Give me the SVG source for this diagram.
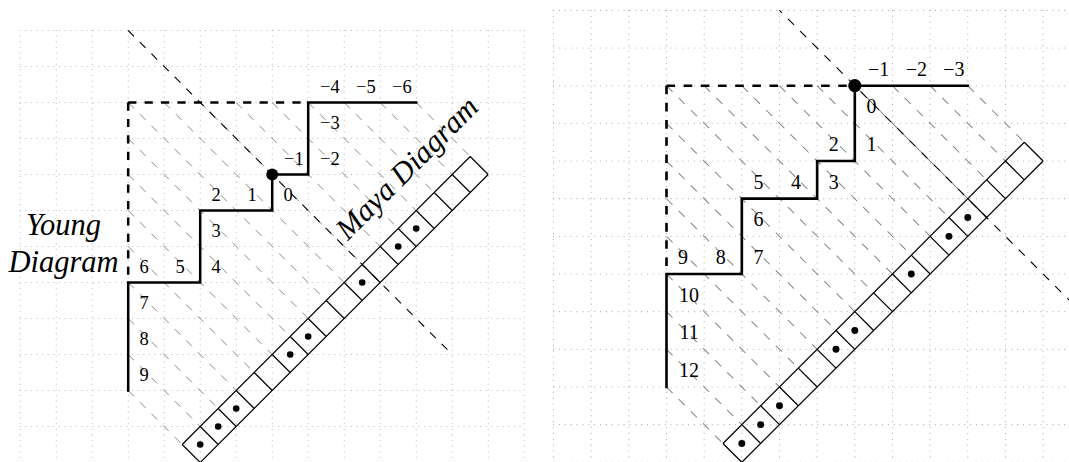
<svg xmlns="http://www.w3.org/2000/svg" width="1069" height="462" viewBox="0 0 1069 462">
<style>
.grid{stroke:#a8a8a8;stroke-width:0.03;stroke-linecap:round;stroke-dasharray:0 0.156;fill:none}
.guide{stroke:#858585;stroke-width:0.027;stroke-dasharray:0.228 0.228;fill:none}
.diag{stroke:#000;stroke-width:0.03;stroke-dasharray:0.228 0.228;fill:none}
.box{stroke:#000;stroke-width:0.07;stroke-dasharray:0.228 0.228;fill:none}
.yd{stroke:#000;stroke-width:0.07;fill:none;stroke-linecap:square}
.strip{stroke:#000;stroke-width:0.033;fill:none}
.lbl{font-family:"Liberation Serif","DejaVu Serif",serif;text-anchor:middle;fill:#000}
.l1{font-size:18.5px}
.l2{font-size:20px}
.it{font-family:"Liberation Serif","DejaVu Serif",serif;font-style:italic;font-size:30.5px;text-anchor:middle;fill:#000}
</style>
<defs>
<g id="base">
<path class="grid" d="M-3 -2H11M-3 -1H11M-3 0H11M-3 1H11M-3 2H11M-3 3H11M-3 4H11M-3 5H11M-3 6H11M-3 7H11M-3 8H11M-3 9H11M-3 10H11M-3 -2V10M-2 -2V10M-1 -2V10M0 -2V10M1 -2V10M2 -2V10M3 -2V10M4 -2V10M5 -2V10M6 -2V10M7 -2V10M8 -2V10M9 -2V10M10 -2V10M11 -2V10"/>
<path class="guide" d="M0 8L1.5 9.5M0 7L2 9M0 6L2.5 8.5M0 5L3 8M0 4L3.5 7.5M0 3L4 7M0 2L4.5 6.5M0 1L5 6M0 0L5.5 5.5M1 0L6 5M2 0L6.5 4.5M3 0L7 4M4 0L7.5 3.5M5 0L8 3M6 0L8.5 2.5M7 0L9 2M8 0L9.5 1.5"/>
<path class="box" d="M0 0H5M0 0V5"/>
<path class="yd" d="M8 0H5V2H4V3H2V5H0V8"/>
<path class="strip" d="M1.5 9.5L9.5 1.5M2 10L10 2M1.5 9.5l0.5 0.5M2 9l0.5 0.5M2.5 8.5l0.5 0.5M3 8l0.5 0.5M3.5 7.5l0.5 0.5M4 7l0.5 0.5M4.5 6.5l0.5 0.5M5 6l0.5 0.5M5.5 5.5l0.5 0.5M6 5l0.5 0.5M6.5 4.5l0.5 0.5M7 4l0.5 0.5M7.5 3.5l0.5 0.5M8 3l0.5 0.5M8.5 2.5l0.5 0.5M9 2l0.5 0.5M9.5 1.5l0.5 0.5"/>
<g fill="#000">
<circle cx="2" cy="9.5" r="0.092"/><circle cx="2.5" cy="9" r="0.092"/><circle cx="3" cy="8.5" r="0.092"/>
<circle cx="4.5" cy="7" r="0.092"/><circle cx="5" cy="6.5" r="0.092"/>
<circle cx="6.5" cy="5" r="0.092"/>
<circle cx="7.5" cy="4" r="0.092"/><circle cx="8" cy="3.5" r="0.092"/>
</g>
</g>
</defs>
<rect width="1069" height="462" fill="#fff"/>

<g id="left-figure">
<g id="left-diagram" transform="translate(128.2 102.5) scale(36)">
<use href="#base"/>
<g id="left-connectors">
<path class="diag" d="M0 -2L9 7"/>
</g>
<circle id="left-origin" cx="4" cy="2" r="0.165" fill="#000"/>
</g>
<g id="left-labels" class="lbl l1">
<text x="401.8" y="92.6">−6</text>
<text x="365.8" y="92.6">−5</text>
<text x="329.8" y="92.6">−4</text>
<text x="329.8" y="128.6">−3</text>
<text x="329.8" y="164.6">−2</text>
<text x="293.8" y="164.6">−1</text>
<text x="288" y="200.6">0</text>
<text x="252" y="200.6">1</text>
<text x="216" y="200.6">2</text>
<text x="216" y="236.6">3</text>
<text x="216" y="272.6">4</text>
<text x="180" y="272.6">5</text>
<text x="144" y="272.6">6</text>
<text x="144" y="308.6">7</text>
<text x="144" y="344.6">8</text>
<text x="144" y="380.6">9</text>
</g>
<g id="young-title" class="it">
<text x="63.5" y="235">Young</text>
<text x="63.5" y="271.5">Diagram</text>
</g>
<g id="maya-title" class="it">
<text transform="translate(414 175) rotate(-45)" x="0" y="0">Maya Diagram</text>
</g>
</g>

<g id="right-figure">
<g id="right-diagram" transform="translate(666.5 85.7) scale(37.66)">
<use href="#base"/>
<g id="right-connectors">
<path class="diag" style="stroke-dashoffset:0.136" d="M3 -2L12 7"/>
</g>
<circle id="right-origin" cx="5" cy="0" r="0.175" fill="#000"/>
</g>
<g id="right-labels" class="lbl l2">
<text x="953.9" y="75.7">−3</text>
<text x="916.3" y="75.7">−2</text>
<text x="878.6" y="75.7">−1</text>
<text x="871.4" y="113.4">0</text>
<text x="871.4" y="151.1">1</text>
<text x="833.7" y="151.1">2</text>
<text x="833.7" y="188.7">3</text>
<text x="796.1" y="188.7">4</text>
<text x="758.4" y="188.7">5</text>
<text x="758.4" y="226.4">6</text>
<text x="758.4" y="264">7</text>
<text x="720.7" y="264">8</text>
<text x="683.1" y="264">9</text>
<text x="689.1" y="301.7">10</text>
<text x="689.1" y="339.4">11</text>
<text x="689.1" y="377">12</text>
</g>
</g>
</svg>
